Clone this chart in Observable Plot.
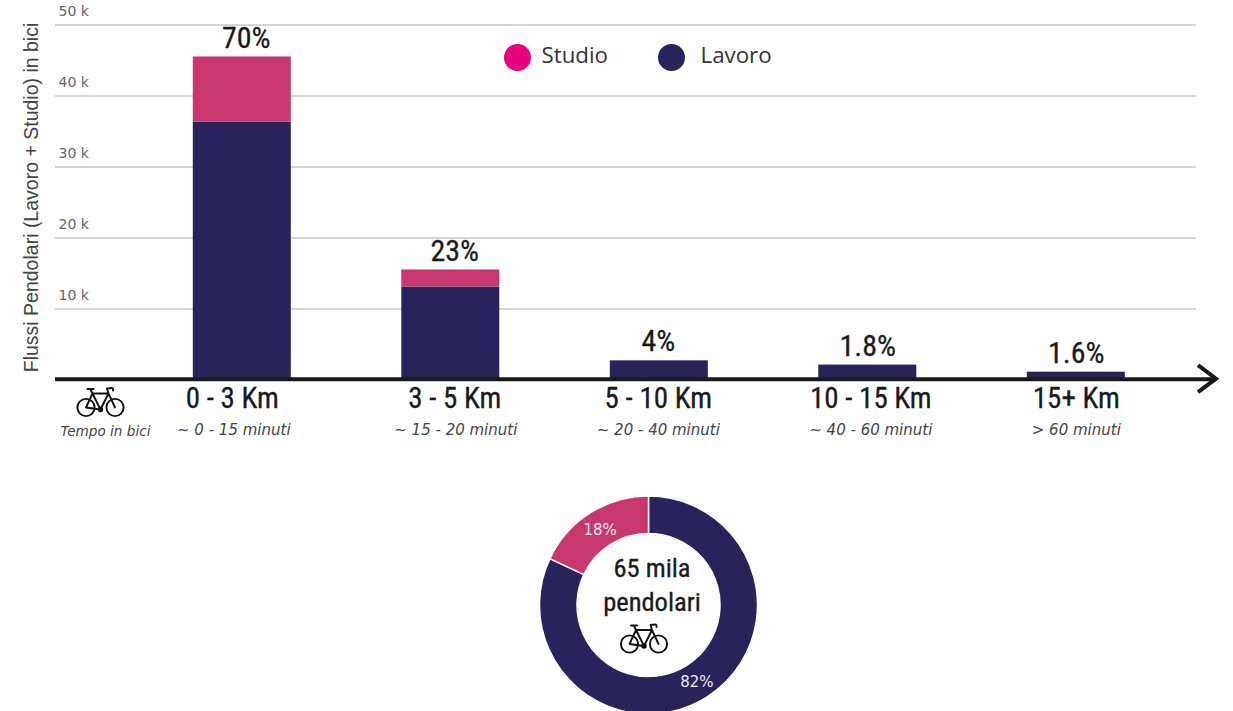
<!DOCTYPE html>
<html lang="it">
<head>
<meta charset="utf-8">
<title>Flussi pendolari in bici</title>
<script src="https://cdn.jsdelivr.net/npm/d3@7"></script>
<script src="https://cdn.jsdelivr.net/npm/@observablehq/plot@0.6"></script>
<style>
  html, body { margin: 0; padding: 0; background: #fff; }
  svg { display: block; }
</style>
</head>
<body>
<script>
// Commuter flows by bike, split by distance band
const distanze = ["0 - 3 Km", "3 - 5 Km", "5 - 10 Km", "10 - 15 Km", "15+ Km"];
const minuti = ["~ 0 - 15 minuti", "~ 15 - 20 minuti", "~ 20 - 40 minuti", "~ 40 - 60 minuti", "> 60 minuti"];
const lavoro = [36300, 13100, 2700, 2100, 1100];
const studio = [9200, 2400, 0, 0, 0];
const percentuali = ["70%", "23%", "4%", "1.8%", "1.6%"];
const tickY = [10000, 20000, 30000, 40000, 50000];
const quote = [
  {nome: "Lavoro", valore: 82, etichetta: "82%"},
  {nome: "Studio", valore: 18, etichetta: "18%"}
];

const NAVY = "#29235c";
const ROSA = "#c8386f";
const MAGENTA = "#e6007e";
const NARROW = "'Liberation Sans Narrow', 'Roboto Condensed', Roboto, sans-serif";
const WIDE = "'DejaVu Sans', Verdana, sans-serif";
const SANS = "'Liberation Sans', Arial, sans-serif";

// Horizontal nudges of the labels under and over each bar
const scartoKm = [-10, 4, -1, 3, 0];
const scartoMinuti = [-8.5, 5, -1, 3, 0];
const scartoPct = [4, 4, -1, 0, 0];

const righe = distanze.flatMap((d, i) => [
  {distanza: d, tipo: "Lavoro", valore: lavoro[i]},
  {distanza: d, tipo: "Studio", valore: studio[i]}
]);
const totali = distanze.map((d, i) => ({
  distanza: d, totale: lavoro[i] + studio[i], percentuale: percentuali[i], minuti: minuti[i]
}));

const ns = "http://www.w3.org/2000/svg";
const el = (name, attrs, parent) => {
  const node = document.createElementNS(ns, name);
  for (const k in attrs) node.setAttribute(k, attrs[k]);
  if (parent) parent.appendChild(node);
  return node;
};

// Small line-art bicycle centred on (cx, cy)
const bici = (cx, cy) => () => {
  const g = el("g", {transform: `translate(${cx},${cy})`, fill: "none", stroke: "#111", "stroke-width": 1.9,
    "stroke-linecap": "round", "stroke-linejoin": "round"});
  el("circle", {cx: -14.5, cy: 6, r: 8.6}, g);
  el("circle", {cx: 14.5, cy: 6, r: 8.6}, g);
  el("path", {d: "M-14.5 6 L-8 -8 L8 -8 L0 8 L-8 -8 M-14.5 6 L0 8 M8 -8 L14.5 6 M8 -8 L6.5 -13 L11 -13.5 Q13 -13.5 12.5 -11 M-8 -8 L-10 -12 M-13 -12.5 L-7 -12.5"}, g);
  el("circle", {cx: 0, cy: 8, r: 1.8, fill: "#111"}, g);
  return g;
};

// Arrow head closing the horizontal axis
const frecciaAsse = (index, scales) => {
  const y = scales.y(0) - 0.8;
  return el("path", {d: `M1198 ${y - 13.5} L1216 ${y} L1198 ${y + 13.5}`, fill: "none",
    stroke: "#1a1a1a", "stroke-width": 4});
};

// Ring of shares around the total
const anello = () => {
  const g = el("g", {transform: "translate(648.5,605)"});
  const pie = d3.pie().value(d => d.valore).sort(null);
  const arc = d3.arc().innerRadius(71.5).outerRadius(109);
  const archi = pie(quote);
  for (const a of archi) {
    el("path", {d: arc(a), fill: a.data.nome === "Lavoro" ? NAVY : ROSA, stroke: "#fff", "stroke-width": 1.5}, g);
  }
  for (const a of archi) {
    const [x, y] = arc.centroid(a);
    const t = el("text", {x, y: y + 1.5, fill: "#f0e8f2", "text-anchor": "middle", "dominant-baseline": "middle",
      "font-family": WIDE, "font-size": 15}, g);
    t.textContent = a.data.etichetta;
  }
  return g;
};

const fisso = (testo, x, y, opzioni) =>
  Plot.text([testo], {frameAnchor: "top-left", textAnchor: "middle", lineAnchor: "middle", dx: x, dy: y, ...opzioni});

const pesante = {fontFamily: NARROW, fontSize: 29, fill: "#1a1a1a", stroke: "#1a1a1a", strokeWidth: 0.3};
const centro = {...pesante, fontSize: 26.5};

const chart = Plot.plot({
  width: 1233,
  height: 711,
  margin: 0,
  style: {background: "transparent", overflow: "visible"},
  x: {type: "band", axis: null, round: false, domain: distanze, range: [137.55, 1180.05], paddingInner: 0.53, paddingOuter: 0.265},
  y: {domain: [0, 50000], range: [379.5, 24.5]},
  color: {domain: ["Lavoro", "Studio"], range: [NAVY, ROSA]},
  marks: [
    Plot.gridY(tickY, {stroke: "#c9c9c9", strokeOpacity: 1, strokeWidth: 1.3, insetLeft: 55, insetRight: 37}),
    Plot.axisY(tickY, {
      anchor: "left", label: null, tickSize: 0, tickPadding: 0, textAnchor: "start", dx: 58, dy: -13,
      tickFormat: d => `${d / 1000} k`, fontFamily: WIDE, fontSize: 14, fill: "#666"
    }),
    Plot.barY(righe, {x: "distanza", y: "valore", fill: "tipo", order: ["Lavoro", "Studio"]}),
    Plot.ruleY([0], {stroke: "#1a1a1a", strokeWidth: 4, insetLeft: 55, insetRight: 17, dy: -0.8}),
    frecciaAsse,
    ...totali.flatMap((t, i) => [
      Plot.text([t], {x: "distanza", y: "totale", text: "percentuale", dy: -19, dx: scartoPct[i], ...pesante, fontSize: 30}),
      Plot.text([t], {x: "distanza", y: () => 0, text: "distanza", dy: 19, dx: scartoKm[i], ...pesante}),
      Plot.text([t], {
        x: "distanza", y: () => 0, text: "minuti", dy: 50.5, dx: scartoMinuti[i],
        fontFamily: WIDE, fontStyle: "italic", fontSize: 15, fill: "#444"
      })
    ]),
    fisso("Flussi Pendolari (Lavoro + Studio) in bici", 31, 197, {rotate: -90, fontFamily: SANS, fontSize: 19.5, fill: "#444"}),
    fisso("Tempo in bici", 105, 431.5, {fontFamily: WIDE, fontStyle: "italic", fontSize: 13.6, fill: "#444"}),
    Plot.dot(["Studio"], {frameAnchor: "top-left", dx: 517, dy: 57, r: 13.5, fill: MAGENTA}),
    Plot.dot(["Lavoro"], {frameAnchor: "top-left", dx: 671, dy: 57, r: 13.5, fill: NAVY}),
    fisso("Studio", 541, 55, {textAnchor: "start", fontFamily: "'Open Sans', sans-serif", fontSize: 22.3, fill: "#333"}),
    fisso("Lavoro", 700, 55, {textAnchor: "start", fontFamily: "'Open Sans', sans-serif", fontSize: 22.3, fill: "#333"}),
    anello,
    fisso("65 mila", 651.5, 568, centro),
    fisso("pendolari", 651.5, 602, centro),
    bici(644, 638),
    bici(100.5, 401.5)
  ]
});
document.body.appendChild(chart);
</script>
</body>
</html>
